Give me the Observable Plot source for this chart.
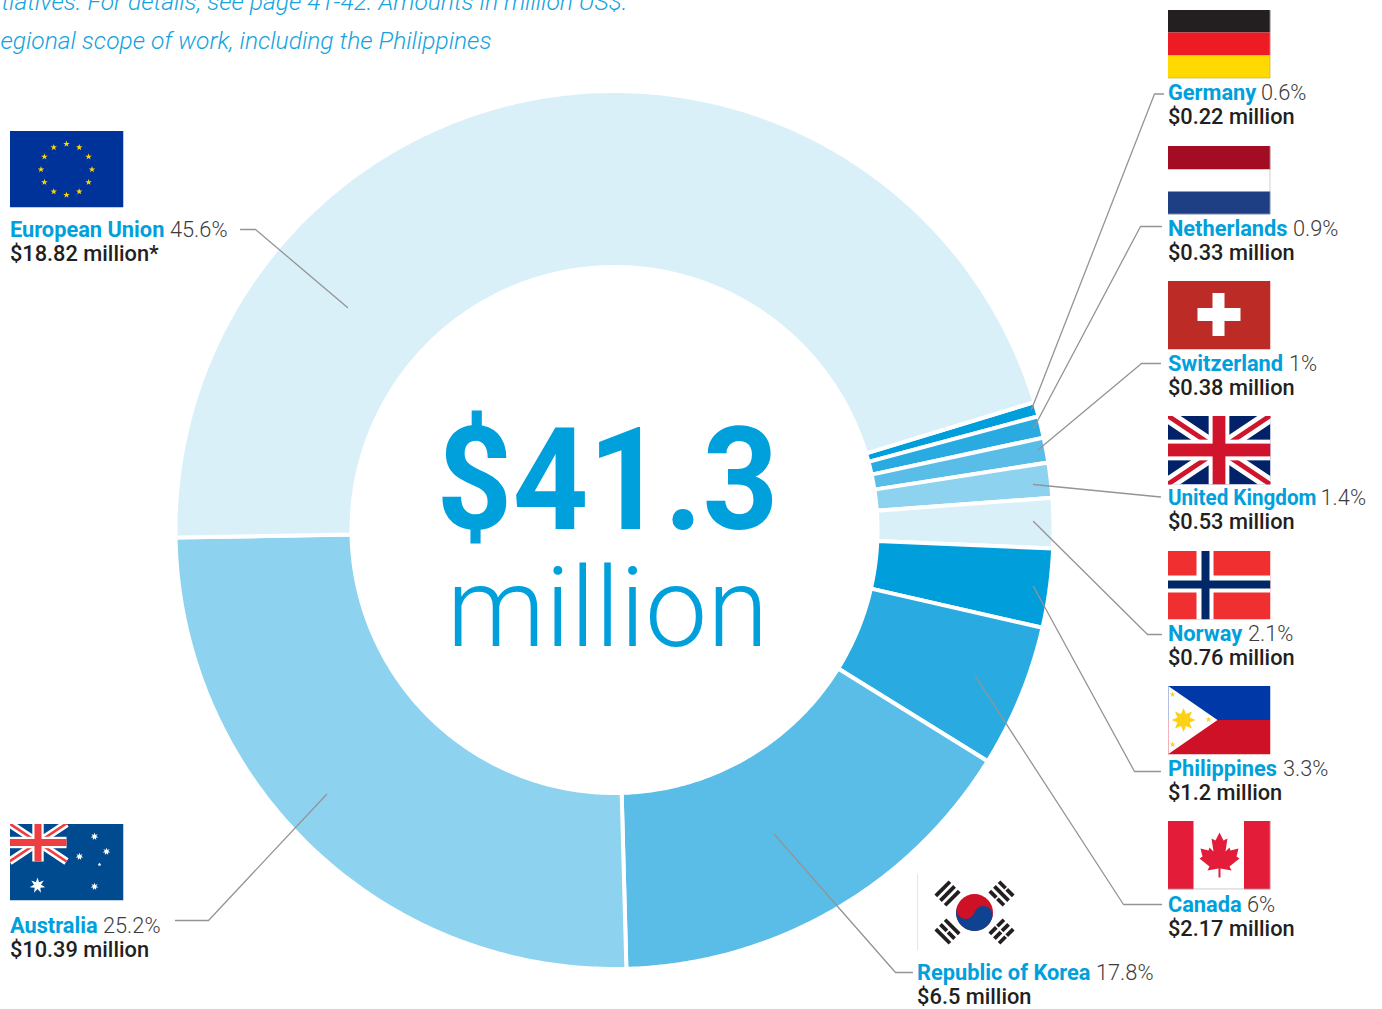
<!DOCTYPE html>
<html>
<head>
<meta charset="utf-8">
<script src="https://cdn.jsdelivr.net/npm/d3@7"></script>
<script src="https://cdn.jsdelivr.net/npm/@observablehq/plot@0.6"></script>
<style>html,body{margin:0;padding:0;background:#fff;overflow:hidden}svg{display:block}</style>
</head>
<body>
<div id="chart"></div>
<script>
// ---- values, clockwise from the Germany slice
const donors = ["Germany","Netherlands","Switzerland","United Kingdom","Norway","Philippines","Canada","Republic of Korea","Australia","European Union"];
const amounts = [0.22,0.33,0.38,0.53,0.76,1.2,2.17,6.5,10.39,18.82];
const shares = ["0.6%","0.9%","1%","1.4%","2.1%","3.3%","6%","17.8%","25.2%","45.6%"];
const amountLabels = ["$0.22 million","$0.33 million","$0.38 million","$0.53 million","$0.76 million","$1.2 million","$2.17 million","$6.5 million","$10.39 million","$18.82 million*"];
const sliceColors = ["#009fdb","#29abe2","#5abde8","#8dd2ee","#daf0f9","#009fdb","#29abe2","#5abde8","#8dd2ee","#daf0f9"];
const total = "$41.3", totalUnit = "million";
const headerLines = ["tiatives. For details, see page 41-42. Amounts in million US$.","egional scope of work, including the Philippines"];

// ---- layout
const W = 1382, H = 1009, cx = 614, cy = 529.5, rOuter = 439, rInner = 263, startDeg = 73.06;
const labelX = [1167.4,1167.4,1167.4,1167.4,1167.4,1167.4,1167.4,916.6,9.4,9.4];
const shareX = [1260.4,1292.4,1288.4,1320,1247.4,1282.4,1246.4,1095.4,102.4,169.4];
const labelY = [99.5,235.5,370.5,504.5,640.5,775.5,911.5,979.5,932.5,236.5];
const leaders = [
  [[1163,93.5],[1154,93.5],[1031,409]],
  [[1161,226],[1140,226],[1033,428]],
  [[1160,363],[1141,363],[1038,449]],
  [[1160,496.5],[1033,484]],
  [[1161,634],[1147,634],[1033,521]],
  [[1160,771],[1134,771],[1033,586]],
  [[1161,904],[1123,904],[975,676]],
  [[912,972],[895,972],[774,834]],
  [[175,920],[208,920],[326,794]],
  [[240,229],[255,229],[347,307]]
];

// ---- slices from the amounts
const sum = d3.sum(amounts);
let running = startDeg;
const slices = amounts.map((v, i) => {
  const a0 = running, a1 = running + v / sum * 360;
  running = a1;
  const pts = [];
  const n = Math.max(2, Math.ceil(a1 - a0) * 2);
  const pos = (a, r) => ({x: cx + r * Math.sin(a * Math.PI / 180), y: cy - r * Math.cos(a * Math.PI / 180)});
  for (let k = 0; k <= n; k++) pts.push(pos(a0 + (a1 - a0) * k / n, rOuter));
  for (let k = n; k >= 0; k--) pts.push(pos(a0 + (a1 - a0) * k / n, rInner));
  pts.push(pts[0]);
  return {pts, color: sliceColors[i]};
});

// ---- flags
function star(x, y, r, n = 5, inner = 0.4, fill = "#ffd400") {
  const p = [];
  for (let i = 0; i < n * 2; i++) {
    const a = -Math.PI / 2 + i * Math.PI / n, q = i % 2 ? r * inner : r;
    p.push((x + q * Math.cos(a)).toFixed(2) + "," + (y + q * Math.sin(a)).toFixed(2));
  }
  return `<polygon points="${p.join(" ")}" fill="${fill}"/>`;
}
function jack(w, h, navy, red) {
  return `<rect width="${w}" height="${h}" fill="${navy}"/>
  <path d="M0 0L${w} ${h}M${w} 0L0 ${h}" stroke="#fff" stroke-width="${h * 0.2}"/>
  <path d="M0 0L${w} ${h}M${w} 0L0 ${h}" stroke="${red}" stroke-width="${h * 0.07}"/>
  <rect x="${w / 2 - h * 0.15}" width="${h * 0.3}" height="${h}" fill="#fff"/>
  <rect y="${h / 2 - h * 0.15}" width="${w}" height="${h * 0.3}" fill="#fff"/>
  <rect x="${w / 2 - h * 0.0925}" width="${h * 0.185}" height="${h}" fill="${red}"/>
  <rect y="${h / 2 - h * 0.0925}" width="${w}" height="${h * 0.185}" fill="${red}"/>`;
}
const edge = (w, h) => `<path d="M${w - .4} 0V${h - .4}H0" fill="none" stroke="#aaa" stroke-width=".8"/>`;
const euStars = d3.range(12).map(i => star(57 + 25.5 * Math.sin(i * Math.PI / 6), 39 - 25.5 * Math.cos(i * Math.PI / 6), 3.4)).join("");
const phStars = star(5,9,3,5,.4,"#fcd116") + star(5,59,3,5,.4,"#fcd116") + star(41,34,3,5,.4,"#fcd116");
const trigram = (x, y, rot, breaks) => {
  const bars = [-6.6, 0, 6.6].map((dy, i) => breaks[i]
    ? `<rect x="-10" y="${dy - 1.9}" width="9.2" height="3.8"/><rect x=".8" y="${dy - 1.9}" width="9.2" height="3.8"/>`
    : `<rect x="-10" y="${dy - 1.9}" width="20" height="3.8"/>`).join("");
  return `<g transform="translate(${x} ${y}) rotate(${rot})" fill="#231f20">${bars}</g>`;
};
const flagSvg = {
  "Germany": [103,69,`<rect width="103" height="23" fill="#231f20"/><rect y="23" width="103" height="23" fill="#ed1c24"/><rect y="46" width="103" height="23" fill="#ffd900"/>` + edge(103,69)],
  "Netherlands": [103,69,`<rect width="103" height="24" fill="#a20d23"/><rect y="24" width="103" height="22" fill="#fff"/><rect y="46" width="103" height="23" fill="#1f3f85"/>` + edge(103,69)],
  "Switzerland": [103,69,`<rect width="103" height="69" fill="#bd2b26"/><rect x="30" y="27.5" width="43" height="13" fill="#fff"/><rect x="45" y="12.5" width="12" height="43" fill="#fff"/>`],
  "United Kingdom": [103,69,jack(103,69,"#012169","#cf142b")],
  "Norway": [103,69,`<rect width="103" height="69" fill="#ef2f30"/><rect x="29" width="17" height="69" fill="#fff"/><rect y="25" width="103" height="17" fill="#fff"/><rect x="34" width="8" height="69" fill="#002868"/><rect y="30" width="103" height="8" fill="#002868"/>`],
  "Philippines": [103,69,`<rect width="103" height="34.5" fill="#0038a8"/><rect y="34.5" width="103" height="34.5" fill="#ce1126"/><polygon points="0,0 50,34.5 0,69" fill="#fff"/><path d="M.4 0V34.5" stroke="#0038a8" stroke-width=".8"/><path d="M.4 34.5V69" stroke="#ce1126" stroke-width=".8"/>` + star(16,34.5,12,8,.55,"#fcd116") + `<circle cx="16" cy="34.5" r="6.5" fill="#fcd116"/>` + phStars],
  "Canada": [103,69,`<rect width="103" height="69" fill="#fff"/><rect width="26" height="69" fill="#e31c3a"/><rect x="76.5" width="26.5" height="69" fill="#e31c3a"/><polygon fill="#e31c3a" points="52,12 48,20 44,18 46,31 42,27 41,30 33,28 35,36 32,38 42,46 40,50 51,48 51,57 53,57 53,48 64,50 62,46 72,38 69,36 71,28 63,30 62,27 58,31 60,18 56,20"/>` + edge(103,69)],
  "Republic of Korea": [115,77,`<rect width="115" height="77" fill="#fff"/><path d="M.5 0V77" stroke="#ccc"/>
    <circle cx="58" cy="39" r="18.5" fill="#cf1126"/>
    <path d="M39.5 39A18.5 18.5 0 0 0 76.5 39A9.25 9.25 0 0 0 58 39A9.25 9.25 0 0 1 39.5 39Z" fill="#0f4291" transform="rotate(18 58 39)"/>` +
    trigram(31,20,-45,[0,0,0]) + trigram(85,20,45,[1,0,1]) + trigram(31,58,45,[0,1,0]) + trigram(85,58,-45,[1,1,1])],
  "European Union": [114,77,`<rect width="114" height="77" fill="#003399"/>` + euStars],
  "Australia": [114,77,`<rect width="114" height="77" fill="#004a8f"/>` + jack(57,38,"#004a8f","#ef3e42") +
    star(28,62,8,7,.45,"#fff") + star(85,13,4,7,.45,"#fff") + star(70,33,4,7,.45,"#fff") + star(97,28,4,7,.45,"#fff") + star(90,41,2,5,.45,"#fff") + star(85,63,4,7,.45,"#fff")]
};
const flagBoxes = [
  ["Germany",1167,9],["Netherlands",1167,145],["Switzerland",1167,280],["United Kingdom",1167,415],
  ["Norway",1167,550],["Philippines",1167,685],["Canada",1167,820],["Republic of Korea",916,873],
  ["European Union",9,130],["Australia",9,823]
];
const flags = flagBoxes.map(([name, x, y]) => {
  const [w, h, body] = flagSvg[name];
  const svg = `<svg xmlns="http://www.w3.org/2000/svg" viewBox="0 0 ${w} ${h}" width="${w}" height="${h}">${body}</svg>`;
  return {x: x + w / 2, y: y + h / 2, w, h, src: "data:image/svg+xml;charset=utf-8," + encodeURIComponent(svg)};
});

const font = "Roboto";
const rows = donors.map((name, i) => ({name, share: shares[i], amount: amountLabels[i], lx: labelX[i], sx: shareX[i], ly: labelY[i]}));

const chart = Plot.plot({
  width: W, height: H, margin: 0,
  x: {domain: [0, W], range: [0, W], axis: null},
  y: {domain: [0, H], range: [0, H], axis: null},
  style: {background: "#fff", fontFamily: font},
  marks: [
    ...slices.map(s => Plot.line(s.pts, {x: "x", y: "y", fill: s.color, stroke: "#fff", strokeWidth: 4})),
    ...leaders.map(l => Plot.line(l, {x: d => d[0], y: d => d[1], stroke: "#949494", strokeWidth: 1.3})),
    Plot.image(flags, {x: "x", y: "y", width: "w", height: "h", src: "src", preserveAspectRatio: "none"}),
    Plot.text(rows, {x: "lx", y: "ly", text: "name", textAnchor: "start", lineAnchor: "bottom", fontFamily: font, fontSize: 21.8, fontWeight: 700, fill: "#00a0dc"}),
    Plot.text(rows, {x: "sx", y: "ly", text: "share", textAnchor: "start", lineAnchor: "bottom", fontFamily: font, fontSize: 21.8, fontWeight: 300, fill: "#3c3c3c"}),
    Plot.text(rows, {x: "lx", y: d => d.ly + 24, text: "amount", textAnchor: "start", lineAnchor: "bottom", fontFamily: font, fontSize: 21.8, fontWeight: 500, fill: "#231f20"}),
    Plot.text([total], {x: () => 607, y: () => 528, text: d => d, textAnchor: "middle", lineAnchor: "bottom", fontFamily: font, fontSize: 142, fontWeight: 700, fill: "#00a0dc"}),
    Plot.text([totalUnit], {x: () => 607, y: () => 645, text: d => d, textAnchor: "middle", lineAnchor: "bottom", fontFamily: font, fontSize: 111, fontWeight: 300, fill: "#00a0dc"}),
    Plot.text(headerLines, {x: (d, i) => [627, 491][i], y: (d, i) => [9, 48][i], text: d => d, textAnchor: "end", lineAnchor: "bottom", fontFamily: font, fontSize: 24.55, fontWeight: 300, fontStyle: "italic", fill: "#14a3de"})
  ]
});
document.getElementById("chart").append(chart);
// the printed total and the longest name are set slightly condensed
const fitted = new Map([[total, 342], ["United Kingdom", 148.5]]);
d3.select(chart).selectAll("text, tspan").filter(function () { return !this.children.length && fitted.has(this.textContent); })
  .attr("textLength", function () { return fitted.get(this.textContent); }).attr("lengthAdjust", "spacingAndGlyphs");
</script>
</body>
</html>
